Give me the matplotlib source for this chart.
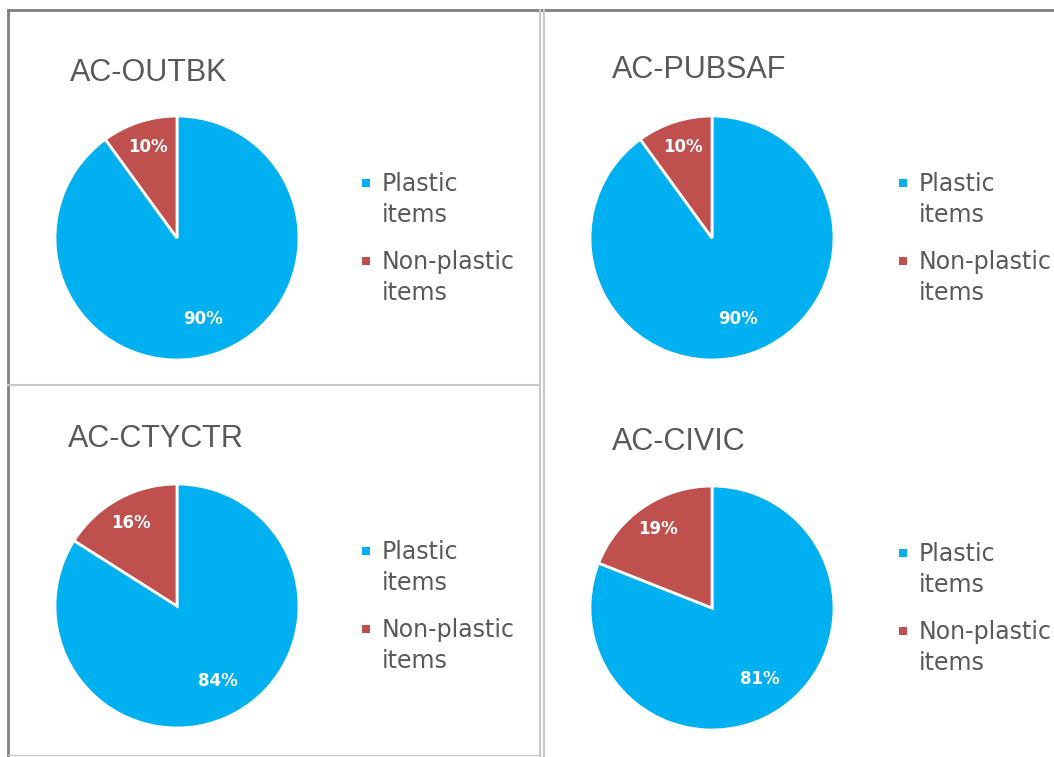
"""
Plastic vs non-plastic item share at four AC sites.
"""
import matplotlib
matplotlib.use("Agg")
import matplotlib.pyplot as plt
from matplotlib.patches import Rectangle
from matplotlib.lines import Line2D

plt.rcParams["font.family"] = ["DejaVu Sans"]

SITES = ["AC-OUTBK", "AC-PUBSAF", "AC-CTYCTR", "AC-CIVIC"]
PLASTIC = [90, 90, 84, 81]
NON_PLASTIC = [10, 10, 16, 19]
LEGEND_LABELS = [["Plastic", "items"], ["Non-plastic", "items"]]
COLORS = ["#00B0F0", "#C0504D"]
TEXT_C = "#595959"

W, H = 1054, 757
fig = plt.figure(figsize=(W / 100, H / 100), dpi=100)


def fx(x):
    return x / W


def fy(y):
    return 1 - y / H


# panel layout in pixels: pie centre, title baseline, legend marker centre
PANELS = [
    dict(c=(177, 238), title=(70, 81), leg=(366, 183)),
    dict(c=(712, 238), title=(612, 78), leg=(903, 183)),
    dict(c=(177, 606), title=(68, 447), leg=(366, 551)),
    dict(c=(712, 608), title=(612, 450), leg=(903, 553)),
]
R = 122

for site, p, n, pan in zip(SITES, PLASTIC, NON_PLASTIC, PANELS):
    cx, cy = pan["c"]
    half = R * 1.25
    ax = fig.add_axes([fx(cx - half), fy(cy + half), 2 * half / W, 2 * half / H])
    _, _, autotexts = ax.pie(
        [p, n], colors=COLORS, startangle=90, counterclock=False,
        autopct="%d%%", pctdistance=0.78,
        wedgeprops=dict(edgecolor="white", linewidth=2),
        textprops=dict(color="white", fontsize=12, fontweight="bold"))
    # big-slice label sits a little closer to the centre (best-fit style)
    x0, y0 = autotexts[0].get_position()
    autotexts[0].set_position((x0 * 0.9, y0 * 0.9))
    ax.set_xlim(-1.25, 1.25); ax.set_ylim(-1.25, 1.25)
    ax.set_aspect("equal")

    tx, ty = pan["title"]
    fig.text(fx(tx), fy(ty), site, fontsize=22, color=TEXT_C,
             family="Liberation Sans", ha="left", va="baseline")

    lx, ly = pan["leg"]
    for i, (lines, col) in enumerate(zip(LEGEND_LABELS, COLORS)):
        yy = ly + i * 78
        fig.patches.append(Rectangle((fx(lx - 4), fy(yy + 4)), 8 / W, 8 / H,
                                     transform=fig.transFigure,
                                     facecolor=col, edgecolor="none"))
        for j, txt in enumerate(lines):
            fig.text(fx(lx + 16), fy(yy + 8 + j * 31), txt, fontsize=17,
                     color=TEXT_C, ha="left", va="baseline")

# panel frames
dark, light = "#808080", "#C8C8C8"
frames = [
    ((8, 1054), (10, 10), dark, 2),
    ((8, 8), (10, 757), dark, 2),
    ((540, 540), (10, 757), light, 1.5),
    ((544, 544), (10, 757), light, 1.5),
    ((8, 540), (385, 385), light, 1.5),
    ((8, 540), (755, 755), light, 1),
]
for xs, ys, col, lw in frames:
    fig.add_artist(Line2D([fx(x) for x in xs], [fy(y) for y in ys],
                          transform=fig.transFigure, color=col, lw=lw))

fig.savefig("out.png", dpi=100)
